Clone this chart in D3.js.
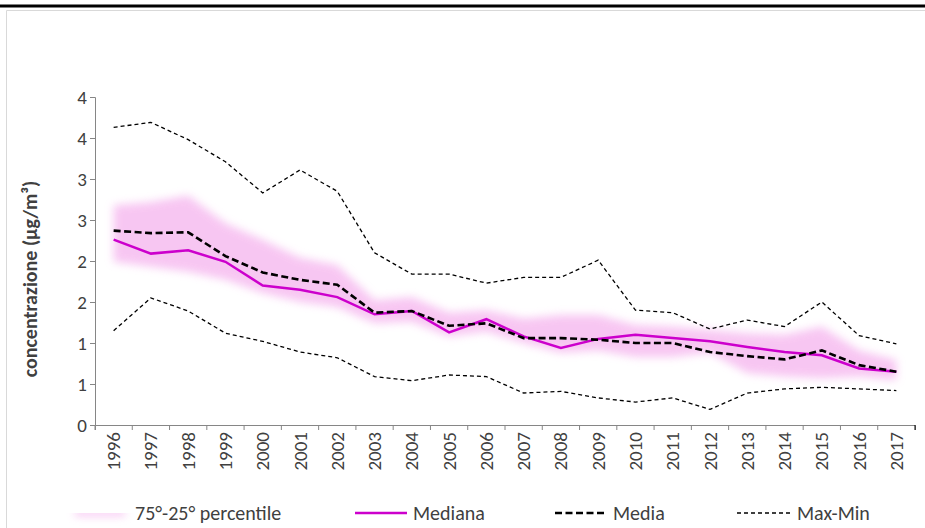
<!DOCTYPE html>
<html>
<head>
<meta charset="utf-8">
<script src="https://cdn.jsdelivr.net/npm/d3@7"></script>
<style>
  body { margin: 0; background: #fff; }
  text { font-family: Carlito, Lato, "Liberation Sans", sans-serif; fill: #404040; }
</style>
</head>
<body>
<script>
// chart size
var width = 925;
var height = 528;

// data
var years = ['1996','1997','1998','1999','2000','2001','2002','2003','2004','2005','2006',
             '2007','2008','2009','2010','2011','2012','2013','2014','2015','2016','2017'];
var p75 = [2.68,2.72,2.80,2.46,2.26,2.04,1.95,1.52,1.56,1.37,1.40,1.30,1.34,1.34,1.22,1.20,1.16,1.12,1.10,1.20,0.91,0.79];
var p25 = [1.99,1.93,1.87,1.77,1.61,1.50,1.44,1.24,1.26,1.08,1.14,1.00,0.88,0.91,0.83,0.83,0.88,0.63,0.59,0.57,0.59,0.55];
var mediana = [2.26,2.09,2.13,1.99,1.70,1.65,1.56,1.35,1.39,1.13,1.29,1.08,0.94,1.05,1.10,1.06,1.02,0.95,0.89,0.85,0.69,0.65];
var media = [2.37,2.34,2.35,2.06,1.86,1.77,1.71,1.37,1.39,1.21,1.24,1.06,1.06,1.04,1.00,1.00,0.89,0.84,0.80,0.91,0.73,0.65];
var maxv = [3.63,3.69,3.48,3.21,2.83,3.11,2.85,2.10,1.84,1.84,1.73,1.80,1.80,2.01,1.40,1.37,1.17,1.28,1.20,1.50,1.09,0.99];
var minv = [1.15,1.55,1.39,1.12,1.02,0.89,0.82,0.59,0.54,0.61,0.59,0.39,0.41,0.33,0.28,0.33,0.19,0.39,0.44,0.46,0.44,0.42];
var yTicks = [0,0.5,1,1.5,2,2.5,3,3.5,4];

var svg = d3.select('body')
    .append('svg')
    .attr('width', width)
    .attr('height', height);

// page frame
svg.append('line').attr('x1',0).attr('x2',width).attr('y1',6).attr('y2',6)
    .attr('stroke','#000').attr('stroke-width',3);
svg.append('path').attr('d','M6.5,' + height + 'V10.5H' + width)
    .attr('fill','none').attr('stroke','#d9d9d9').attr('stroke-width',1);

var defs = svg.append('defs');
defs.append('filter').attr('id','soft')
    .attr('filterUnits','userSpaceOnUse')
    .attr('x',0).attr('y',0).attr('width',width).attr('height',height)
    .append('feGaussianBlur').attr('stdDeviation',4);

// scales
var xScale = d3.scaleBand().domain(years).range([95,915]);
var yScale = d3.scaleLinear().domain([0,4]).range([425,97]);
function cx(i){ return xScale(years[i]) + xScale.bandwidth()/2; }

// percentile band
var band = d3.area()
    .x(function(d,i){ return cx(i); })
    .y0(function(d,i){ return yScale(p25[i]); })
    .y1(function(d){ return yScale(d); });
svg.append('path')
    .datum(p75)
    .attr('d', band)
    .attr('fill','#f5b4ee')
    .attr('opacity',0.75)
    .attr('filter','url(#soft)');

// axes
var yAxis = d3.axisLeft(yScale).tickValues(yTicks).tickSize(5)
    .tickFormat(function(d){ return Math.floor(d + 0.5); });
var yAxisGroup = svg.append('g').attr('transform','translate(95,0)').call(yAxis);
yAxisGroup.selectAll('text').attr('font-size',19).attr('x',-8);

var xAxis = d3.axisBottom(xScale).tickSize(5);
var xAxisGroup = svg.append('g').attr('transform','translate(0,425)').call(xAxis);
xAxisGroup.selectAll('.tick line').attr('transform','translate(' + (-xScale.bandwidth()/2) + ',0)');
xAxisGroup.append('line')
    .attr('x1',915).attr('x2',915).attr('y1',0).attr('y2',5).attr('stroke','currentColor');
xAxisGroup.selectAll('text')
    .attr('font-size',19)
    .attr('transform','rotate(-90)')
    .attr('text-anchor','end')
    .attr('dominant-baseline','central')
    .attr('x',-7).attr('y',0).attr('dy',null);
svg.selectAll('.domain, .tick line').attr('stroke','#868686');

// lines
var line = d3.line()
    .x(function(d,i){ return cx(i); })
    .y(function(d){ return yScale(d); });

[maxv, minv].forEach(function(s){
    svg.append('path').datum(s).attr('d',line)
        .attr('fill','none').attr('stroke','#000')
        .attr('stroke-width',1.3).attr('stroke-dasharray','4,3');
});
svg.append('path').datum(mediana).attr('d',line)
    .attr('fill','none').attr('stroke','#cc00cc').attr('stroke-width',2.5);
svg.append('path').datum(media).attr('d',line)
    .attr('fill','none').attr('stroke','#000')
    .attr('stroke-width',2.6).attr('stroke-dasharray','7,3.5');

// y title
svg.append('text')
    .attr('transform','translate(30,279) rotate(-90)')
    .attr('text-anchor','middle')
    .attr('dominant-baseline','central')
    .attr('font-size',20)
    .attr('font-weight','bold')
    .attr('fill','#000')
    .text('concentrazione (µg/m³)');

// legend
var leg = svg.append('g').attr('transform','translate(0,513)');
leg.append('rect').attr('x',75).attr('y',-3).attr('width',50).attr('height',6)
    .attr('fill','#f5b4ee').attr('opacity',0.8).attr('filter','url(#soft)');
leg.append('line').attr('x1',355).attr('x2',407).attr('y1',0).attr('y2',0)
    .attr('stroke','#cc00cc').attr('stroke-width',2.5);
leg.append('line').attr('x1',555).attr('x2',607).attr('y1',0).attr('y2',0)
    .attr('stroke','#000').attr('stroke-width',2.6).attr('stroke-dasharray','7,3.5');
leg.append('line').attr('x1',737).attr('x2',791).attr('y1',0).attr('y2',0)
    .attr('stroke','#000').attr('stroke-width',1.3).attr('stroke-dasharray','4,3');
var labels = [[135,'75°-25° percentile'],[413,'Mediana'],[613,'Media'],[797,'Max-Min']];
labels.forEach(function(l){
    leg.append('text').attr('x',l[0]).attr('y',0)
        .attr('dominant-baseline','central')
        .attr('font-size',20)
        .text(l[1]);
});
</script>
</body>
</html>
